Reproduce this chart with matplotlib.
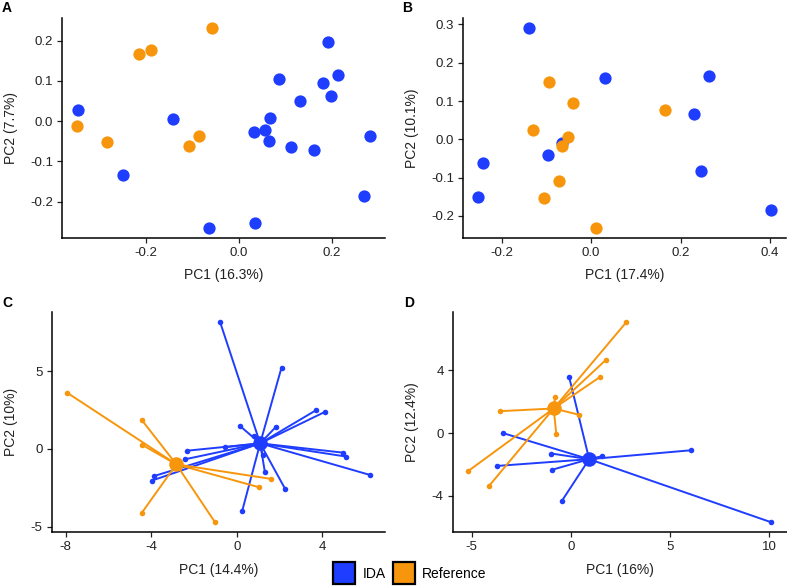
import numpy as np
import matplotlib
matplotlib.use('Agg')
import matplotlib.pyplot as plt
from matplotlib.lines import Line2D

plt.rcParams['font.family'] = ['Liberation Sans', 'DejaVu Sans']
plt.rcParams['axes.unicode_minus'] = False

blue = '#1f3dff'
orange = '#f7960c'

# panel A
a_ida_x = [-0.345, -0.249, -0.141, -0.063, 0.034, 0.032, 0.056, 0.067, 0.065, 0.086,
           0.131, 0.113, 0.161, 0.181, 0.192, 0.213, 0.199, 0.270, 0.283]
a_ida_y = [0.029, -0.135, 0.005, -0.265, -0.253, -0.026, -0.022, 0.007, -0.049, 0.106,
           0.050, -0.065, -0.071, 0.096, 0.197, 0.114, 0.063, -0.187, -0.036]
a_ref_x = [-0.057, -0.214, -0.189, -0.348, -0.283, -0.108, -0.085]
a_ref_y = [0.231, 0.168, 0.178, -0.011, -0.053, -0.062, -0.036]

# panel B
b_ida_x = [-0.139, 0.031, 0.264, 0.229, 0.245, 0.403, -0.242, -0.253, -0.097, -0.064]
b_ida_y = [0.290, 0.161, 0.166, 0.066, -0.083, -0.184, -0.062, -0.150, -0.041, -0.009]
b_ref_x = [-0.094, -0.040, 0.165, -0.130, -0.052, -0.066, -0.071, -0.105, 0.010]
b_ref_y = [0.150, 0.096, 0.077, 0.024, 0.005, -0.017, -0.108, -0.153, -0.231]

# panel C
c_ida_cent = (1.09, 0.36)
c_ida_x = [-0.78, 2.09, 3.70, 4.14, 0.13, 1.84, 0.78, 4.98, 5.11, 6.22,
           2.25, 1.31, 1.20, 0.25, -0.56, -2.31, -2.44, -3.86, -3.98]
c_ida_y = [8.15, 5.24, 2.49, 2.40, 1.50, 1.44, 0.84, -0.24, -0.49, -1.67,
           -2.55, -1.48, -0.39, -3.99, 0.11, -0.11, -0.67, -1.74, -2.04]
c_ref_cent = (-2.83, -0.99)
c_ref_x = [-7.95, -4.45, -4.45, -4.45, -1.02, 1.05, 1.61]
c_ref_y = [3.63, 1.87, 0.28, -4.12, -4.72, -2.47, -1.93]

# panel D
d_ida_cent = (0.93, -1.66)
d_ida_x = [-0.08, -3.41, -0.98, 1.57, 6.08, -3.73, -0.96, -0.46, 10.12]
d_ida_y = [3.57, 0.00, -1.30, -1.47, -1.09, -2.09, -2.34, -4.34, -5.68]
d_ref_cent = (-0.86, 1.57)
d_ref_x = [2.80, 1.77, 1.47, -0.79, -3.56, 0.42, -0.73, -5.19, -4.12]
d_ref_y = [7.06, 4.66, 3.57, 2.30, 1.40, 1.17, -0.04, -2.43, -3.36]

fig = plt.figure(figsize=(7.87, 5.88), dpi=100)
W, H = 787, 588


def make_ax(l, t, r, b):
    ax = fig.add_axes([l / W, 1 - b / H, (r - l) / W, (b - t) / H])
    for s in ['top', 'right']:
        ax.spines[s].set_visible(False)
    for s in ['left', 'bottom']:
        ax.spines[s].set_linewidth(1.1)
    ax.tick_params(direction='out', length=3.5, width=0.9, labelsize=9.5,
                   colors='#222222', pad=3)
    return ax


def set_lims(ax, xs, ys):
    xs = np.asarray(xs); ys = np.asarray(ys)
    dx = xs.max() - xs.min(); dy = ys.max() - ys.min()
    ax.set_xlim(xs.min() - 0.05 * dx, xs.max() + 0.05 * dx)
    ax.set_ylim(ys.min() - 0.05 * dy, ys.max() + 0.05 * dy)


def labels(ax, xl, yl):
    ax.set_xlabel(xl, fontsize=10, color='#222222', labelpad=7)
    ax.set_ylabel(yl, fontsize=10, color='#222222', labelpad=9)


def scatter_panel(ax, ix, iy, rx, ry, xt, yt):
    ax.scatter(ix, iy, s=78, color=blue, linewidths=0, zorder=3)
    ax.scatter(rx, ry, s=78, color=orange, linewidths=0, zorder=4)
    set_lims(ax, ix + rx, iy + ry)
    ax.set_xticks(xt)
    ax.set_yticks(yt)
    ax.set_xticklabels(['%.1f' % v for v in xt])
    ax.set_yticklabels(['%.1f' % v for v in yt])


def spider_panel(ax, cent, px, py, col, z):
    for x, y in zip(px, py):
        ax.plot([cent[0], x], [cent[1], y], color=col, lw=1.4, zorder=z)
    ax.scatter(px, py, s=16, color=col, linewidths=0, zorder=z)
    ax.scatter([cent[0]], [cent[1]], s=110, color=col, linewidths=0, zorder=z)


axA = make_ax(62.3, 18.3, 385, 237.7)
scatter_panel(axA, a_ida_x, a_ida_y, a_ref_x, a_ref_y,
              [-0.2, 0.0, 0.2], [-0.2, -0.1, 0.0, 0.1, 0.2])
labels(axA, 'PC1 (16.3%)', 'PC2 (7.7%)')

axB = make_ax(463.3, 18.3, 786, 237.7)
scatter_panel(axB, b_ida_x, b_ida_y, b_ref_x, b_ref_y,
              [-0.2, 0.0, 0.2, 0.4], [-0.2, -0.1, 0.0, 0.1, 0.2, 0.3])
labels(axB, 'PC1 (17.4%)', 'PC2 (10.1%)')

axC = make_ax(51.7, 312.3, 385, 532.3)
spider_panel(axC, c_ida_cent, c_ida_x, c_ida_y, blue, 3)
spider_panel(axC, c_ref_cent, c_ref_x, c_ref_y, orange, 4)
set_lims(axC, c_ida_x + c_ref_x, c_ida_y + c_ref_y)
axC.set_xticks([-8, -4, 0, 4])
axC.set_yticks([-5, 0, 5])
labels(axC, 'PC1 (14.4%)', 'PC2 (10%)')

axD = make_ax(452.7, 312.3, 786.5, 532.3)
spider_panel(axD, d_ida_cent, d_ida_x, d_ida_y, blue, 3)
spider_panel(axD, d_ref_cent, d_ref_x, d_ref_y, orange, 4)
set_lims(axD, d_ida_x + d_ref_x, d_ida_y + d_ref_y)
axD.set_xticks([-5, 0, 5, 10])
axD.set_yticks([-4, 0, 4])
labels(axD, 'PC1 (16%)', 'PC2 (12.4%)')

for lab, x, y in [('A', 2, 8), ('B', 402, 8), ('C', 2, 303), ('D', 404, 303)]:
    fig.text(x / W, 1 - y / H, lab, fontsize=10, fontweight='bold',
             va='center', ha='left')

handles = [Line2D([], [], marker='s', ls='', markersize=16.5, markerfacecolor=blue,
                  markeredgecolor='black', markeredgewidth=1.6),
           Line2D([], [], marker='s', ls='', markersize=16.5, markerfacecolor=orange,
                  markeredgecolor='black', markeredgewidth=1.6)]
fig.legend(handles, ['IDA', 'Reference'], loc='center', ncol=2,
           bbox_to_anchor=(411 / W, 1 - 574 / H), frameon=False, fontsize=10,
           handletextpad=0.7, columnspacing=0.6, handlelength=1.3)

plt.savefig('out.png', dpi=100)
